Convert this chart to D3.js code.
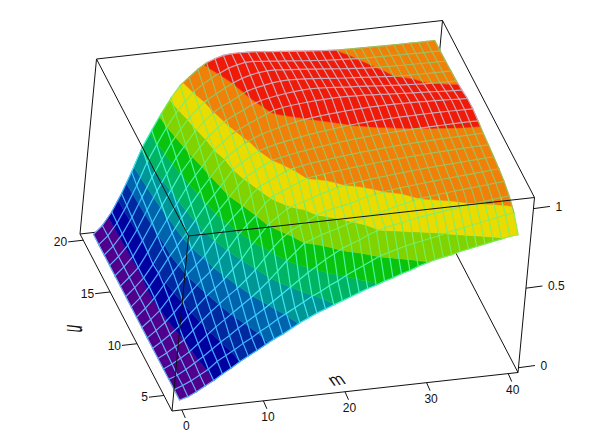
<!DOCTYPE html>
<html>
<head>
<meta charset="utf-8">
<script src="https://cdn.jsdelivr.net/npm/d3@7"></script>
<style>
	html, body { margin: 0; background: #fff; }
	svg { display: block; }
	text { font-family: "Liberation Sans", Arial, sans-serif; font-size: 12px; fill: #111; }
</style>
</head>
<body>
<svg width="615" height="432"></svg>
<script>
const M_VALUES = d3.range(0, 41);
const U_VALUES = [4, 5, 6, 7, 8, 9, 10, 11, 12, 13, 14, 15, 16, 17, 18, 19, 20];

// surface height, one row per u, 41 values per row (m = 0..40)
const Z_U4 = [0,.015,.04,.07,.10,.135,.165,.20,.23,.26,.29,.32,.345,.375,.405,.43,.455,.475,.495,.515,.535,.555,.575,.59,.61,.625,.645,.66,.68,.695,.71,.72,.73,.745,.755,.765,.775,.785,.795,.805,.81];
const Z_U5 = [0,.02,.045,.075,.105,.15,.18,.21,.245,.275,.31,.34,.375,.405,.435,.465,.495,.52,.55,.575,.605,.63,.655,.68,.705,.72,.735,.75,.76,.77,.78,.79,.805,.815,.825,.835,.845,.855,.865,.875,.885];
const Z_U6 = [0,.02,.05,.085,.12,.16,.20,.235,.275,.31,.345,.38,.42,.46,.50,.54,.58,.615,.65,.68,.71,.73,.75,.775,.795,.81,.82,.83,.84,.85,.858,.866,.873,.88,.888,.896,.90,.907,.913,.92,.925];
const Z_U7 = [0,.025,.055,.09,.135,.185,.23,.27,.31,.35,.39,.435,.485,.54,.60,.65,.70,.72,.74,.755,.77,.788,.805,.815,.83,.84,.855,.87,.88,.893,.902,.908,.914,.919,.924,.929,.933,.937,.941,.946,.95];
const Z_U8 = [0,.03,.065,.10,.155,.21,.26,.305,.35,.39,.44,.495,.56,.625,.68,.72,.745,.77,.80,.815,.83,.84,.85,.865,.88,.89,.90,.907,.913,.918,.923,.928,.933,.937,.941,.945,.949,.953,.957,.961,.965];
const Z_U9 = [0,.035,.075,.12,.18,.235,.29,.335,.385,.445,.505,.58,.645,.71,.75,.79,.81,.825,.84,.86,.875,.89,.902,.908,.914,.92,.925,.93,.935,.94,.944,.948,.952,.955,.958,.961,.964,.967,.97,.973,.975];
const Z_U10 = [0,.04,.085,.14,.205,.27,.325,.375,.44,.51,.585,.645,.70,.77,.815,.835,.86,.88,.902,.91,.916,.922,.928,.934,.939,.944,.949,.953,.957,.961,.964,.967,.97,.973,.975,.977,.979,.981,.983,.984,.985];
const Z_U11 = [0,.045,.095,.165,.235,.305,.36,.415,.50,.575,.635,.69,.765,.815,.84,.865,.89,.905,.915,.924,.93,.936,.942,.948,.953,.958,.962,.966,.97,.973,.976,.979,.981,.983,.985,.987,.989,.99,.991,.992,.993];
const Z_U12 = [0,.05,.11,.185,.26,.33,.395,.48,.555,.625,.69,.76,.815,.845,.875,.90,.912,.922,.932,.94,.948,.955,.961,.967,.973,.978,.982,.986,.99,.992,.995,.997,.999,1.0,1.002,1.003,1.004,1.005,1.006,1.006,1.006];
const Z_U13 = [0,.05,.115,.195,.28,.355,.43,.51,.59,.655,.725,.80,.835,.87,.90,.915,.93,.94,.95,.96,.968,.975,.982,.988,.994,1.0,1.004,1.007,1.01,1.012,1.014,1.015,1.016,1.017,1.018,1.018,1.018,1.018,1.017,1.017,1.016];
const Z_U14 = [0,.05,.105,.185,.28,.37,.46,.54,.62,.69,.76,.82,.855,.89,.915,.935,.95,.965,.978,.989,.997,1.004,1.01,1.015,1.019,1.023,1.026,1.028,1.03,1.031,1.032,1.032,1.031,1.03,1.029,1.027,1.025,1.023,1.021,1.018,1.016];
const Z_U15 = [0,.05,.105,.195,.295,.39,.48,.575,.65,.72,.80,.84,.885,.915,.94,.965,.988,1.01,1.02,1.027,1.032,1.036,1.04,1.042,1.044,1.045,1.044,1.042,1.04,1.037,1.034,1.03,1.027,1.024,1.021,1.018,1.015,1.012,1.009,1.006,1.004];
const Z_U16 = [0,.05,.11,.205,.31,.415,.51,.61,.685,.755,.82,.87,.91,.937,.963,.99,1.01,1.02,1.03,1.037,1.043,1.047,1.05,1.048,1.045,1.041,1.037,1.033,1.03,1.026,1.022,1.018,1.014,1.01,1.007,1.004,1.001,.999,.998,.997,.997];
const Z_U17 = [0,.05,.115,.21,.325,.44,.54,.638,.715,.79,.845,.895,.93,.955,.983,1.01,1.025,1.035,1.045,1.05,1.052,1.05,1.047,1.043,1.038,1.033,1.028,1.024,1.02,1.016,1.012,1.008,1.004,1.0,.998,.997,.996,.995,.995,.994,.994];
const Z_U18 = [0,.05,.12,.22,.34,.46,.565,.667,.746,.817,.872,.915,.945,.976,1.003,1.025,1.04,1.05,1.055,1.055,1.05,1.046,1.042,1.037,1.032,1.027,1.022,1.017,1.012,1.008,1.004,1.001,.998,.997,.996,.995,.994,.993,.992,.992,.991];
const Z_U19 = [0,.05,.125,.23,.35,.49,.595,.695,.78,.85,.905,.945,.98,1.005,1.03,1.045,1.055,1.055,1.05,1.045,1.04,1.035,1.03,1.025,1.02,1.015,1.011,1.008,1.005,1.002,.999,.997,.996,.995,.994,.993,.992,.992,.991,.991,.99];
const Z_U20 = [0,.05,.13,.24,.37,.515,.62,.72,.81,.885,.93,.975,1.01,1.03,1.045,1.05,1.05,1.048,1.045,1.04,1.035,1.03,1.025,1.02,1.015,1.01,1.006,1.002,.999,.997,.996,.995,.994,.993,.992,.992,.991,.991,.99,.99,.99];
const Z_ROWS = [Z_U4, Z_U5, Z_U6, Z_U7, Z_U8, Z_U9, Z_U10, Z_U11, Z_U12, Z_U13, Z_U14, Z_U15, Z_U16, Z_U17, Z_U18, Z_U19, Z_U20];

const BAND_LEVELS = [0, 0.1, 0.2, 0.3, 0.4, 0.5, 0.6, 0.7, 0.8, 0.9, 1.0, 1.1];
const BAND_COLORS = ["#50008c", "#0000a0", "#0028a0", "#0064ac", "#009696", "#00b464", "#0ac30f", "#82d200", "#ebdc00", "#f08008", "#f01a08"];
const MESH_COLORS = ["#64aaf0", "#46aaff", "#3cb4ff", "#3cc8ff", "#3ce6f0", "#3cf5c8", "#46f5a0", "#6ef05a", "#8ceb5a", "#a0be5a", "#cda5b4"];

const M_TICKS = [0, 10, 20, 30, 40];
const U_TICKS = [5, 10, 15, 20];
const Z_TICKS = [0, 0.5, 1];

// the box is a parallel projection: one screen vector per data axis
const ORIGIN = [172, 411];
const M_AXIS = [346, -38.5];
const U_AXIS = [-92, -177];
const Z_AXIS = [16.5, -175];

const mScale = d3.scaleLinear().domain([-1.2, 41.2]).range([0, 1]);
const uScale = d3.scaleLinear().domain([3.5, 20.6]).range([0, 1]);
const zScale = d3.scaleLinear().domain([-0.03, 1.07]).range([0, 1]);
const bandScale = d3.scaleThreshold().domain(BAND_LEVELS.slice(1, -1)).range(MESH_COLORS);
const [mLo, mHi] = mScale.domain();
const [uLo, uHi] = uScale.domain();
const [zLo, zHi] = zScale.domain();

function project(m, u, z) {
	const a = mScale(m), b = uScale(u), c = zScale(z);
	return [
		ORIGIN[0] + a * M_AXIS[0] + b * U_AXIS[0] + c * Z_AXIS[0],
		ORIGIN[1] + a * M_AXIS[1] + b * U_AXIS[1] + c * Z_AXIS[1],
	];
}

const svg = d3.select("svg");
const line = d3.line();

function boxLines(group, edges) {
	group.selectAll("path")
		.data(edges)
		.enter()
		.append("path")
		.attr("d", (e) => line(e))
		.attr("fill", "none")
		.attr("stroke", "#111")
		.attr("stroke-width", 1);
}

const A = project(mLo, uLo, zLo), B = project(mHi, uLo, zLo);
const C = project(mLo, uHi, zLo), D = project(mHi, uHi, zLo);
const E = project(mLo, uLo, zHi), F = project(mHi, uLo, zHi);
const G = project(mLo, uHi, zHi), H = project(mHi, uHi, zHi);

boxLines(svg.append("g"), [[C, G], [G, H], [H, F], [F, B], [B, D], [D, H], [C, D], [A, C], [A, B]]);

// cut one cell down to the part lying in a height band
function clipAbove(poly, level, sign) {
	const out = [];
	poly.forEach((p, i) => {
		const q = poly[(i + 1) % poly.length];
		const dp = sign * (p[2] - level), dq = sign * (q[2] - level);
		if (dp >= 0) out.push(p);
		if ((dp > 0 && dq < 0) || (dp < 0 && dq > 0)) {
			const t = dp / (dp - dq);
			out.push([p[0] + t * (q[0] - p[0]), p[1] + t * (q[1] - p[1]), level]);
		}
	});
	return out;
}

const pieces = [];
for (let j = U_VALUES.length - 2; j >= 0; j--) {
	for (let i = 0; i < M_VALUES.length - 1; i++) {
		const cell = [
			[M_VALUES[i], U_VALUES[j], Z_ROWS[j][i]],
			[M_VALUES[i + 1], U_VALUES[j], Z_ROWS[j][i + 1]],
			[M_VALUES[i + 1], U_VALUES[j + 1], Z_ROWS[j + 1][i + 1]],
			[M_VALUES[i], U_VALUES[j + 1], Z_ROWS[j + 1][i]],
		];
		BAND_COLORS.forEach((color, k) => {
			let part = clipAbove(cell, BAND_LEVELS[k], 1);
			if (part.length) part = clipAbove(part, BAND_LEVELS[k + 1], -1);
			if (part.length > 2) pieces.push({ color, part });
		});
	}
}

svg.append("g")
	.selectAll("path")
	.data(pieces)
	.enter()
	.append("path")
	.attr("d", (d) => line(d.part.map((p) => project(p[0], p[1], p[2]))) + "Z")
	.attr("fill", (d) => d.color)
	.attr("stroke", (d) => d.color)
	.attr("stroke-width", 0.5);

// mesh is drawn one segment at a time, its colour shifts with the band underneath
const meshSegments = [];
U_VALUES.forEach((u, j) => {
	M_VALUES.slice(1).forEach((m, i) => {
		meshSegments.push([[M_VALUES[i], u, Z_ROWS[j][i]], [m, u, Z_ROWS[j][i + 1]]]);
	});
});
M_VALUES.forEach((m, i) => {
	U_VALUES.slice(1).forEach((u, j) => {
		meshSegments.push([[m, U_VALUES[j], Z_ROWS[j][i]], [m, u, Z_ROWS[j + 1][i]]]);
	});
});

svg.append("g")
	.selectAll("path")
	.data(meshSegments)
	.enter()
	.append("path")
	.attr("d", (d) => line(d.map((p) => project(p[0], p[1], p[2]))))
	.attr("fill", "none")
	.attr("stroke", (d) => bandScale((d[0][2] + d[1][2]) / 2))
	.attr("stroke-linecap", "round")
	.attr("stroke-width", 1.2);

boxLines(svg.append("g"), [[A, E], [E, F], [E, G]]);

// ticks and labels
const ticks = svg.append("g");
function tickLine(p, dx, dy) {
	ticks.append("path")
		.attr("d", line([p, [p[0] + dx, p[1] + dy]]))
		.attr("stroke", "#111")
		.attr("fill", "none");
}

M_TICKS.forEach((m) => {
	const p = project(m, uLo, zLo);
	tickLine(p, 3.5, 8);
	ticks.append("text")
		.attr("x", p[0] + 4.5)
		.attr("y", p[1] + 20)
		.attr("text-anchor", "middle")
		.text(m);
});
U_TICKS.forEach((u) => {
	const p = project(mLo, u, zLo);
	tickLine(p, -15, 1.7);
	ticks.append("text")
		.attr("x", p[0] - 16)
		.attr("y", p[1] + 6)
		.attr("text-anchor", "end")
		.text(u);
});
Z_TICKS.forEach((z) => {
	const p = project(mHi, uLo, z);
	tickLine(p, 16.5, -2.2);
	ticks.append("text")
		.attr("x", p[0] + 22)
		.attr("y", p[1] + 2)
		.text(z);
});

svg.append("text")
	.attr("transform", "translate(333,386) rotate(-10) skewX(25)")
	.style("font-size", "17px")
	.text("m");
svg.append("text")
	.attr("transform", "translate(82,333) rotate(-90) skewX(-6) scale(1,2.2)")
	.style("font-size", "13px")
	.text("u");
</script>
</body>
</html>
